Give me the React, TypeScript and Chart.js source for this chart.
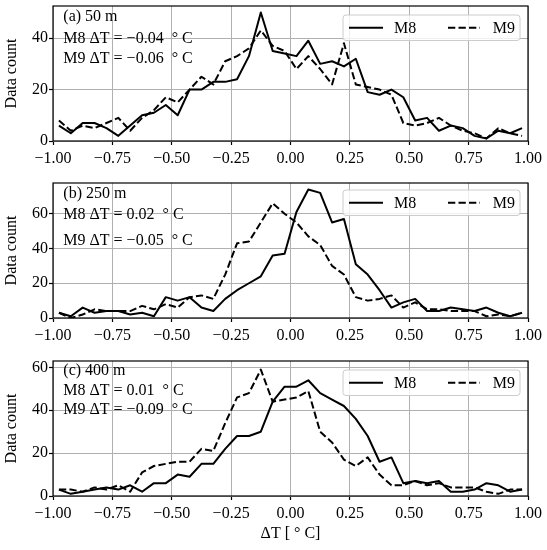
import { useEffect, useRef } from 'react'
import { Chart, registerables } from 'chart.js'

Chart.register(...registerables)
Chart.defaults.font.family = '"Liberation Serif", "DejaVu Serif", serif'
Chart.defaults.font.size = 16
Chart.defaults.color = '#000'

// histogram bin centres (ΔT, °C)
const binCenters = [
  -0.975, -0.925, -0.875, -0.825, -0.775, -0.725, -0.675, -0.625, -0.575, -0.525,
  -0.475, -0.425, -0.375, -0.325, -0.275, -0.225, -0.175, -0.125, -0.075, -0.025,
  0.025, 0.075, 0.125, 0.175, 0.225, 0.275, 0.325, 0.375, 0.425, 0.475,
  0.525, 0.575, 0.625, 0.675, 0.725, 0.775, 0.825, 0.875, 0.925, 0.975,
]
const xTicks = [-1, -0.75, -0.5, -0.25, 0, 0.25, 0.5, 0.75, 1]
const seriesNames = ['M8', 'M9']
const xTitle = 'ΔT [ ° C]'
const yTitle = 'Data count'

// (a) 50 m
const m8At50 = [6, 3, 7, 7, 5, 2, 6, 10, 11, 14, 10, 20, 20, 23, 23, 24, 33, 50, 35, 34, 33, 39, 30, 31, 29, 32, 19, 18, 20, 17, 8, 9, 4, 6, 5, 2, 1, 4, 3, 5]
const m9At50 = [8, 4, 6, 5, 7, 9, 4, 9, 12, 17, 15, 20, 25, 22, 31, 33, 36, 43, 37, 35, 28, 33, 28, 22, 38, 22, 21, 20, 18, 7, 6, 7, 9, 6, 4, 3, 1, 5, 3, 2]
// (b) 250 m
const m8At250 = [3, 1, 6, 3, 4, 4, 2, 3, 1, 12, 10, 12, 6, 4, 11, 16, 20, 24, 36, 37, 61, 74, 72, 55, 57, 31, 25, 16, 6, 9, 11, 4, 4, 6, 5, 4, 6, 3, 1, 3]
const m9At250 = [3, 0, 2, 5, 4, 4, 4, 7, 5, 8, 6, 12, 13, 11, 25, 43, 44, 55, 66, 60, 55, 47, 42, 30, 25, 12, 10, 11, 13, 6, 9, 5, 5, 4, 4, 4, 1, 2, 1, 3]
// (c) 400 m
const m8At400 = [3, 1, 2, 3, 4, 3, 5, 2, 6, 6, 10, 9, 15, 15, 22, 28, 28, 30, 44, 51, 51, 54, 48, 45, 42, 36, 28, 16, 18, 6, 7, 6, 7, 2, 2, 3, 6, 5, 2, 3]
const m9At400 = [3, 3, 2, 4, 3, 5, 2, 11, 14, 15, 16, 16, 22, 21, 34, 46, 48, 59, 44, 45, 46, 49, 30, 25, 17, 14, 18, 10, 5, 5, 7, 5, 6, 4, 4, 4, 2, 1, 3, 3]

const panelLabels = ['(a) 50 m', '(b) 250 m', '(c) 400 m']
const m8Bias = ['−0.04', '0.02', '0.01']
const m9Bias = ['−0.06', '−0.05', '−0.09']
const yTicksA = [0, 20, 40]
const yTicksBC = [0, 20, 40, 60]
const yMaxes = [52.5, 77.7, 63]

const fmtX = (v: number) => v.toFixed(2).replace('-', '−')
const FONT = '16px "Liberation Serif", "DejaVu Serif", serif'

interface PanelProps {
  top: number
  height: number
  padTop: number
  xHeight: number
  m8: number[]
  m9: number[]
  yMax: number
  yTicks: number[]
  label: string
  b8: string
  b9: string
  textY: number[]
  legendY: number
  showXTitle: boolean
}

function Panel(p: PanelProps) {
  const canvasRef = useRef<HTMLCanvasElement>(null)

  useEffect(() => {
    if (!canvasRef.current) return

    const decor = {
      id: 'decor',
      afterDatasetsDraw(chart: Chart) {
        const { ctx, chartArea: { left, top, right, bottom } } = chart
        ctx.save()
        ctx.strokeStyle = '#000'
        ctx.lineWidth = 1.2
        ctx.strokeRect(left, top, right - left, bottom - top)
        ctx.restore()
      },
      afterDraw(chart: Chart) {
        const { ctx, chartArea: { top } } = chart
        ctx.save()
        ctx.font = FONT
        ctx.fillStyle = '#000'
        ctx.textBaseline = 'alphabetic'
        ctx.fillText(p.label, 63.3, top + p.textY[0])
        ctx.fillText(`${seriesNames[0]} ΔT = ${p.b8}  ° C`, 63.3, top + p.textY[1])
        ctx.fillText(`${seriesNames[1]} ΔT = ${p.b9}  ° C`, 63.3, top + p.textY[2])

        // legend
        const lx = 343, lw = 177, lh = 25.5
        const ly = top + p.legendY
        ctx.beginPath()
        ctx.roundRect(lx, ly, lw, lh, 3)
        ctx.fillStyle = 'rgba(255,255,255,0.8)'
        ctx.fill()
        ctx.strokeStyle = '#cccccc'
        ctx.lineWidth = 1
        ctx.stroke()
        const cy = ly + lh / 2
        ctx.strokeStyle = '#000'
        ctx.lineWidth = 2
        ctx.beginPath()
        ctx.moveTo(349, cy)
        ctx.lineTo(383, cy)
        ctx.stroke()
        ctx.setLineDash([7.3, 3.2])
        ctx.beginPath()
        ctx.moveTo(448, cy)
        ctx.lineTo(480, cy)
        ctx.stroke()
        ctx.setLineDash([])
        ctx.fillStyle = '#000'
        ctx.textBaseline = 'middle'
        ctx.fillText(seriesNames[0], 394, cy + 1)
        ctx.fillText(seriesNames[1], 492.7, cy + 1)
        ctx.restore()
      },
    }

    const chart = new Chart(canvasRef.current, {
      type: 'line',
      data: {
        datasets: [
          {
            label: seriesNames[0],
            data: binCenters.map((x, i) => ({ x, y: p.m8[i] })),
            borderColor: '#000',
            borderWidth: 2,
            borderJoinStyle: 'round',
            pointRadius: 0,
            tension: 0,
            order: 2,
          },
          {
            label: seriesNames[1],
            data: binCenters.map((x, i) => ({ x, y: p.m9[i] })),
            borderColor: '#000',
            borderWidth: 2,
            borderDash: [7.3, 3.2],
            borderJoinStyle: 'round',
            pointRadius: 0,
            tension: 0,
            order: 1,
          },
        ],
      },
      options: {
        animation: false,
        responsive: true,
        maintainAspectRatio: false,
        events: [],
        layout: { padding: { left: 0, right: 19, top: p.padTop, bottom: 0 } },
        plugins: { legend: { display: false }, tooltip: { enabled: false } },
        scales: {
          x: {
            type: 'linear',
            min: -1,
            max: 1,
            afterBuildTicks: (s: any) => { s.ticks = xTicks.map((v) => ({ value: v })) },
            afterFit: (s: any) => {
              s.height = p.xHeight
              s.paddingLeft = 0
              s.paddingRight = 0
            },
            grid: { color: '#b0b0b0', lineWidth: 1, tickColor: '#000', tickLength: 4, tickWidth: 1.2 },
            border: { display: false },
            ticks: {
              color: '#000',
              padding: 4,
              maxRotation: 0,
              autoSkip: false,
              callback: (v: any) => fmtX(Number(v)),
            },
            title: {
              display: p.showXTitle,
              text: xTitle,
              color: '#000',
              padding: { top: 0, bottom: 7 },
            },
          },
          y: {
            type: 'linear',
            min: 0,
            max: p.yMax,
            afterBuildTicks: (s: any) => { s.ticks = p.yTicks.map((v) => ({ value: v })) },
            afterFit: (s: any) => {
              s.width = 53
              s.paddingTop = 0
              s.paddingBottom = 0
            },
            grid: { color: '#b0b0b0', lineWidth: 1, tickColor: '#000', tickLength: 4, tickWidth: 1.2 },
            border: { display: false },
            ticks: { color: '#000', padding: 1, callback: (v: any) => String(v) },
            title: { display: true, text: yTitle, color: '#000', padding: { top: 2, bottom: 0 } },
          },
        },
      },
      plugins: [decor],
    })

    return () => { chart.destroy() }
  }, [])

  return (
    <div style={{ position: 'absolute', left: 0, top: p.top, width: 547, height: p.height }}>
      <canvas ref={canvasRef} />
    </div>
  )
}

export default function App() {
  return (
    <div style={{ position: 'absolute', left: 0, top: 0, width: 547, height: 550, background: '#fff' }}>
      <Panel top={0} height={178} padTop={6} xHeight={37} m8={m8At50} m9={m9At50} yMax={yMaxes[0]} yTicks={yTicksA}
        label={panelLabels[0]} b8={m8Bias[0]} b9={m9Bias[0]} textY={[15, 36.5, 57]} legendY={9} showXTitle={false} />
      <Panel top={178} height={178} padTop={5} xHeight={38} m8={m8At250} m9={m9At250} yMax={yMaxes[1]} yTicks={yTicksBC}
        label={panelLabels[1]} b8={m8Bias[1]} b9={m9Bias[1]} textY={[15, 35.7, 61.7]} legendY={7} showXTitle={false} />
      <Panel top={356} height={194} padTop={5} xHeight={54} m8={m8At400} m9={m9At400} yMax={yMaxes[2]} yTicks={yTicksBC}
        label={panelLabels[2]} b8={m8Bias[2]} b9={m9Bias[2]} textY={[13.5, 34, 53]} legendY={9} showXTitle={true} />
    </div>
  )
}
